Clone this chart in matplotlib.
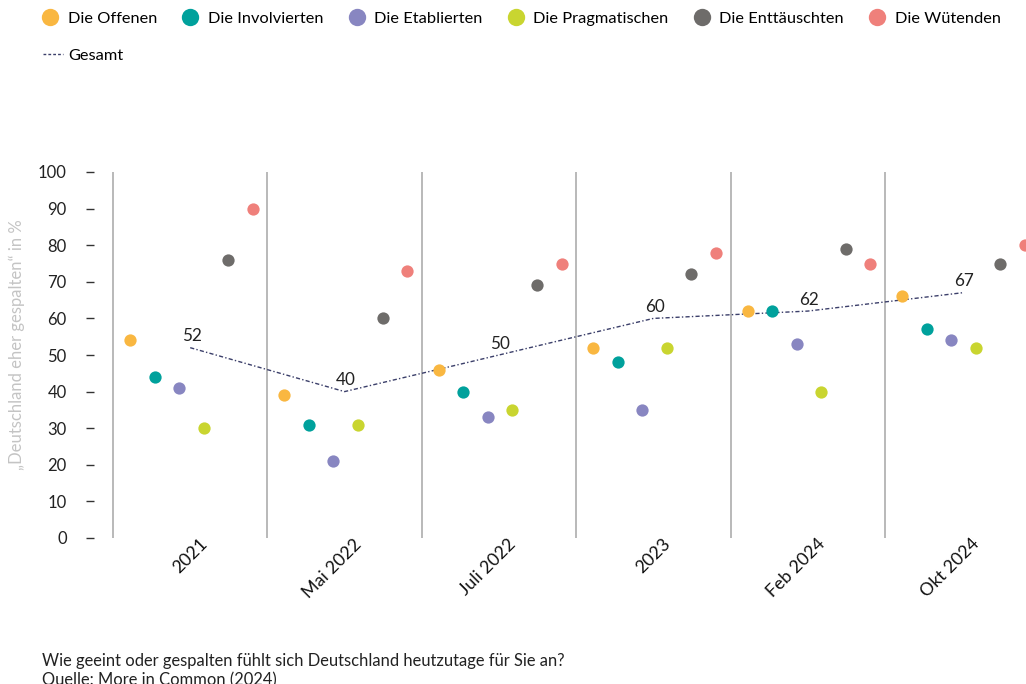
import matplotlib
matplotlib.use("Agg")
import matplotlib.pyplot as plt
from matplotlib.lines import Line2D
import matplotlib.transforms as mtransforms

plt.rcParams['font.family'] = ['Lato', 'DejaVu Sans']

periods = ["2021", "Mai 2022", "Juli 2022", "2023", "Feb 2024", "Okt 2024"]
groups = ["Die Offenen", "Die Involvierten", "Die Etablierten",
          "Die Pragmatischen", "Die Enttäuschten", "Die Wütenden"]
colors = ["#F9B741", "#00A19C", "#8886C1", "#C9D530", "#6E6C6A", "#EF807B"]

offenen       = [54, 39, 46, 52, 62, 66]
involvierten  = [44, 31, 40, 48, 62, 57]
etablierten   = [41, 21, 33, 35, 53, 54]
pragmatischen = [30, 31, 35, 52, 40, 52]
enttaeuschten = [76, 60, 69, 72, 79, 75]
wuetenden     = [90, 73, 75, 78, 75, 80]
gesamt        = [52, 40, 50, 60, 62, 67]

series = [offenen, involvierten, etablierten, pragmatischen, enttaeuschten, wuetenden]

W, H = 1026, 684
fig = plt.figure(figsize=(W / 100, H / 100), dpi=100)

unit = 154.4
x0px = 113
ax_left, ax_right = 100, 1080
ax = fig.add_axes([ax_left / W, 146 / H, (ax_right - ax_left) / W, 366 / H])
ax.set_xlim(-(x0px - ax_left) / unit, (ax_right - x0px) / unit)
ax.set_ylim(0, 100)

# separators
for i in range(len(periods)):
    ax.axvline(i, color="#A6A6A6", lw=1.1, zorder=1)

offsets = [0.11 + 0.159 * k for k in range(6)]
for k, (vals, c, name) in enumerate(zip(series, colors, groups)):
    xs = [i + offsets[k] for i in range(len(periods))]
    ax.scatter(xs, vals, s=78, color=c, zorder=3, linewidths=0, clip_on=False)

centers = [i + 0.5 for i in range(len(periods))]
ax.plot(centers, gesamt, color="#3B3F6A", lw=1.0, dashes=(3, 1.6, 1, 1.6), zorder=2)
for xc, v in zip(centers, gesamt):
    ax.annotate(str(v), (xc, v), xytext=(1, 2.5), textcoords="offset points",
                ha="center", va="bottom", fontsize=12.3, color="#222222")

for s in ax.spines.values():
    s.set_visible(False)
ax.spines['left'].set_position(('outward', 4))
ax.set_yticks(range(0, 101, 10))
ax.tick_params(axis='y', length=6, width=1, color="#333333", pad=14,
               labelsize=12, labelcolor="#222222")
ax.set_xticks(centers)
ax.set_xticklabels(periods, rotation=45, ha="right", rotation_mode="anchor",
                   fontsize=12.8, color="#111111")
ax.tick_params(axis='x', length=0, pad=0)
offset = mtransforms.ScaledTranslation(9 / 100, 2 / 100, fig.dpi_scale_trans)
for lbl in ax.get_xticklabels():
    lbl.set_transform(lbl.get_transform() + offset)

fig.text(17 / W, 1 - 345 / H, "„Deutschland eher gespalten“ in %", rotation=90,
         ha="center", va="center", fontsize=12, color="#C4C4C4")

handles = [Line2D([], [], marker="o", ls="none", markersize=12.5,
                  markerfacecolor=c, markeredgewidth=0, label=g)
           for c, g in zip(colors, groups)]
fig.legend(handles=handles, loc="center left", bbox_to_anchor=(38 / W, 1 - 19 / H),
           ncol=6, frameon=False, fontsize=11.8, handletextpad=0.3,
           columnspacing=1.3, handlelength=1.5, borderaxespad=0, borderpad=0)
gh = [Line2D([], [], color="#3B3F6A", lw=1.0, dashes=(2, 1.5), label="Gesamt")]
fig.legend(handles=gh, loc="center left", bbox_to_anchor=(43 / W, 1 - 56 / H),
           frameon=False, fontsize=11.8, handlelength=1.2, handletextpad=0.35,
           borderaxespad=0, borderpad=0)

fig.text(42 / W, 1 - 661 / H,
         "Wie geeint oder gespalten fühlt sich Deutschland heutzutage für Sie an?",
         ha="left", va="center", fontsize=11.9, color="#222222")
fig.text(42 / W, 1 - 680 / H, "Quelle: More in Common (2024)",
         ha="left", va="center", fontsize=11.9, color="#222222")

fig.savefig("out.png", dpi=100)
